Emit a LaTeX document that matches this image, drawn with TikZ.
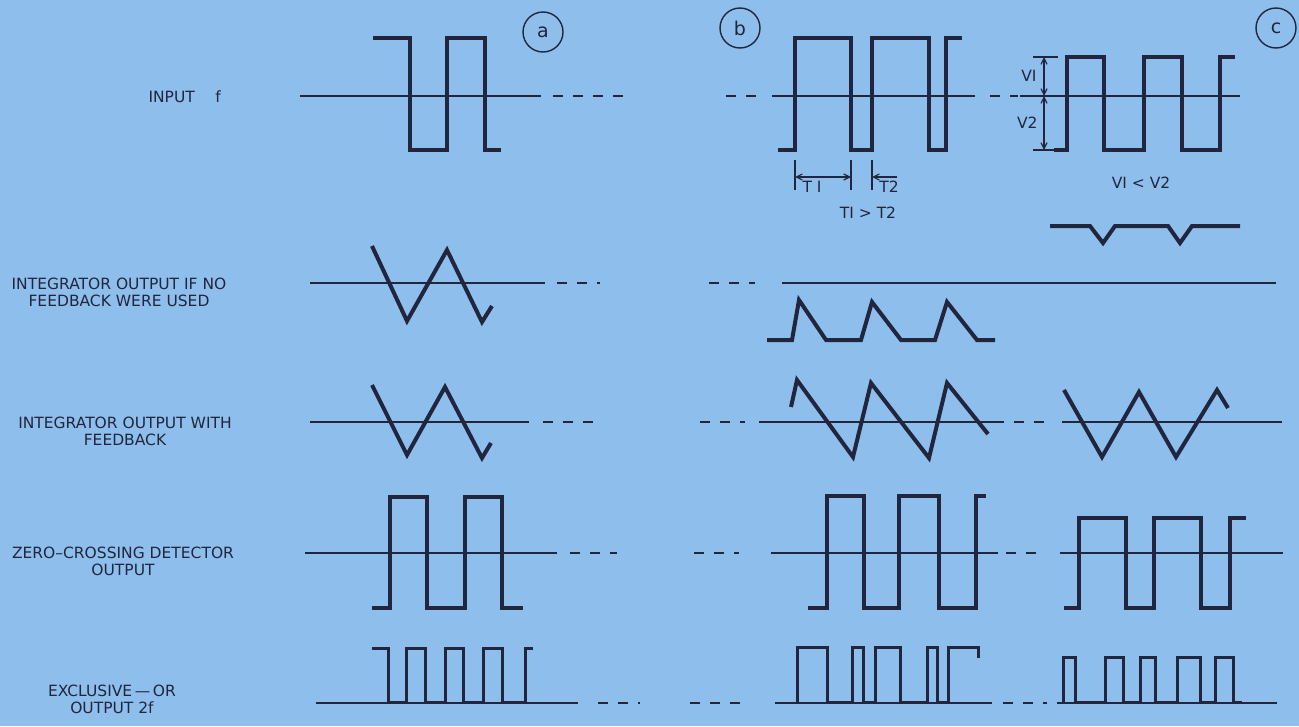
\documentclass[tikz,border=0pt]{standalone}
\usepackage{fontspec}
\setmainfont{DejaVu Sans}
\usepackage{tikz}
\usetikzlibrary{arrows.meta}
\definecolor{paper}{RGB}{142,191,236}
\definecolor{ink}{RGB}{34,37,62}

\begin{document}
\begin{tikzpicture}[x=1pt, y=-1pt,
      sig/.style={ink, line width=4pt},
      sigthin/.style={ink, line width=3pt},
      zline/.style={ink, line width=1.8pt},
      zdash/.style={zline, dash pattern=on 10pt off 10pt},
      lbl/.style={text=ink, align=center, font=\fontsize{15.5}{17}\selectfont},
      tag/.style={circle, draw=ink, line width=1.4pt, minimum size=40pt,
                  inner sep=0pt, text=ink, font=\fontsize{19}{19}\selectfont},
      dimarr/.style={ink, line width=1.2pt,
                     {Straight Barb[length=6pt,width=6pt]}-{Straight Barb[length=6pt,width=6pt]}},
      tick/.style={ink, line width=1.2pt}]
    \fill[paper] (0,0) rectangle (1299,726);
    \useasboundingbox (0,0) rectangle (1299,726);

    % row labels
    \node[lbl, anchor=west] (input) at (145,97) {INPUT\quad\ f};
    \node[lbl] (intno) at (119,292) {INTEGRATOR OUTPUT IF NO\\FEEDBACK WERE USED};
    \node[lbl] (intfb) at (125,431) {INTEGRATOR OUTPUT WITH\\FEEDBACK};
    \node[lbl] (zcd) at (123,561) {ZERO--CROSSING DETECTOR\\OUTPUT};
    \node[lbl] (xor) at (112,699) {EXCLUSIVE\,---\,OR\\OUTPUT 2f};

    % case tags
    \node[tag] (tagA) at (543,32) {a};
    \node[tag] (tagB) at (740,28) {b};
    \node[tag] (tagC) at (1276,28) {c};

    % zero lines
    \draw[zline] (300,96) -- (541,96);   \draw[zdash] (553,96) -- (625,96);
    \draw[zdash] (726,96) -- (765,96);   \draw[zline] (772,96) -- (975,96);
    \draw[zdash] (990,96) -- (1018,96);  \draw[zline] (1020,96) -- (1240,96);
    \draw[zline] (310,283) -- (545,283); \draw[zdash] (557,283) -- (600,283);
    \draw[zdash] (709,283) -- (755,283); \draw[zline] (782,283) -- (1276,283);
    \draw[zline] (310,422) -- (529,422); \draw[zdash] (543,422) -- (593,422);
    \draw[zdash] (700,422) -- (745,422); \draw[zline] (759,422) -- (1004,422);
    \draw[zdash] (1014,422) -- (1054,422); \draw[zline] (1062,422) -- (1282,422);
    \draw[zline] (305,553) -- (557,553); \draw[zdash] (570,553) -- (617,553);
    \draw[zdash] (694,553) -- (739,553); \draw[zline] (771,553) -- (998,553);
    \draw[zdash] (1006,553) -- (1046,553); \draw[zline] (1060,553) -- (1283,553);
    \draw[zline] (316,703) -- (578,703); \draw[zdash] (598,703) -- (640,703);
    \draw[zdash] (690,703) -- (743,703); \draw[zline] (775,703) -- (992,703);
    \draw[zdash] (1003,703) -- (1047,703); \draw[zline] (1057,703) -- (1277,703);

    % input f
    \draw[sig] (373,38) -- (410,38) -- (410,150) -- (447,150) -- (447,38)
               -- (485,38) -- (485,150) -- (501,150);
    \draw[sig] (778,150) -- (795,150) -- (795,38) -- (851,38) -- (851,150)
               -- (872,150) -- (872,38) -- (929,38) -- (929,150) -- (946,150)
               -- (946,38) -- (962,38);
    \draw[sig] (1054,150) -- (1067,150) -- (1067,57) -- (1104,57) -- (1104,150)
               -- (1144,150) -- (1144,57) -- (1182,57) -- (1182,150) -- (1220,150)
               -- (1220,57) -- (1235,57);

    % T1, T2
    \draw[tick] (795,160) -- (795,190);
    \draw[tick] (851,160) -- (851,190);
    \draw[tick] (872,160) -- (872,190);
    \draw[dimarr] (795,177) -- (851,177);
    \draw[ink, line width=1.2pt, -{Straight Barb[length=6pt,width=6pt]}] (897,177) -- (872,177);
    \node[lbl] (tone) at (812,187) {T I};
    \node[lbl] (ttwo) at (889,187) {T2};
    \node[lbl] (tcmp) at (868,213) {TI > T2};

    % V1, V2
    \draw[tick] (1033,57) -- (1058,57);
    \draw[tick] (1033,150) -- (1058,150);
    \draw[dimarr] (1044,57) -- (1044,96);
    \draw[dimarr] (1044,96) -- (1044,150);
    \node[lbl, anchor=east] (vone) at (1040,76) {VI};
    \node[lbl, anchor=east] (vtwo) at (1041,123) {V2};
    \node[lbl] (vcmp) at (1141,183) {VI < V2};

    % notches
    \draw[sig] (1050,226) -- (1090,226) -- (1103,243) -- (1115,226) -- (1168,226)
               -- (1180,243) -- (1192,226) -- (1240,226);

    % integrator, no feedback
    \draw[sig] (372,246) -- (407,321) -- (447,250) -- (482,322) -- (492,306);
    \draw[sig] (767,340) -- (792,340) -- (799,300) -- (826,340) -- (861,340)
               -- (872,302) -- (901,340) -- (935,340) -- (947,302) -- (977,340)
               -- (995,340);

    % integrator with feedback
    \draw[sig] (372,385) -- (407,455) -- (445,387) -- (482,458) -- (491,443);
    \draw[sig] (791,407) -- (797,380) -- (853,457) -- (871,383) -- (929,458)
               -- (947,383) -- (988,434);
    \draw[sig] (1064,390) -- (1102,457) -- (1139,392) -- (1176,457) -- (1217,390)
               -- (1228,408);

    % zero-crossing detector
    \draw[sig] (372,608) -- (390,608) -- (390,497) -- (427,497) -- (427,608)
               -- (465,608) -- (465,497) -- (502,497) -- (502,608) -- (523,608);
    \draw[sig] (808,608) -- (827,608) -- (827,496) -- (864,496) -- (864,608)
               -- (899,608) -- (899,496) -- (939,496) -- (939,608) -- (976,608)
               -- (976,496) -- (986,496);
    \draw[sig] (1064,608) -- (1079,608) -- (1079,518) -- (1126,518) -- (1126,608)
               -- (1154,608) -- (1154,518) -- (1201,518) -- (1201,608) -- (1230,608)
               -- (1230,518) -- (1246,518);

    % exclusive-or
    \draw[sigthin] (372,648) -- (388,648) -- (388,702) -- (406,702) -- (406,648)
               -- (425,648) -- (425,702) -- (445,702) -- (445,648) -- (463,648)
               -- (463,702) -- (483,702) -- (483,648) -- (502,648) -- (502,702)
               -- (525,702) -- (525,648) -- (533,648);
    \draw[sigthin] (797,702) -- (797,647) -- (827,647) -- (827,702) -- (852,702)
               -- (852,647) -- (863,647) -- (863,702) -- (875,702) -- (875,647)
               -- (900,647) -- (900,702) -- (927,702) -- (927,647) -- (937,647)
               -- (937,702) -- (948,702) -- (948,647) -- (978,647) -- (978,658);
    \draw[sigthin] (1063,702) -- (1063,657) -- (1075,657) -- (1075,702) -- (1105,702)
               -- (1105,657) -- (1123,657) -- (1123,702) -- (1140,702) -- (1140,657)
               -- (1155,657) -- (1155,702) -- (1177,702) -- (1177,657) -- (1200,657)
               -- (1200,702) -- (1215,702) -- (1215,657) -- (1233,657) -- (1233,702)
               -- (1242,702);
\end{tikzpicture}
\end{document}
